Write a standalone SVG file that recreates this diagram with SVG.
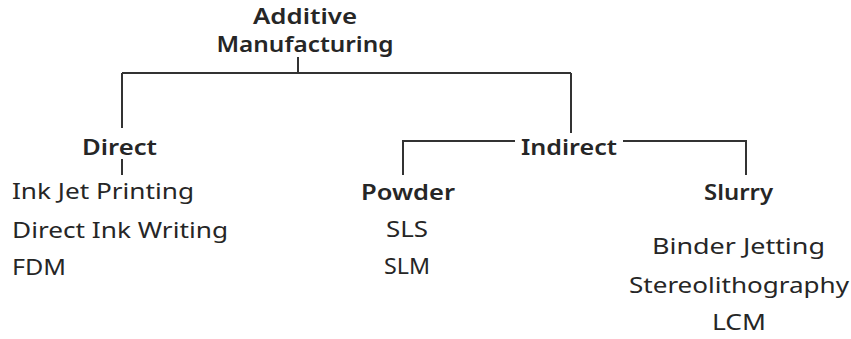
<svg xmlns="http://www.w3.org/2000/svg" width="851" height="339" viewBox="0 0 851 339">
<style>
text{font-family:"Noto Sans","Liberation Sans",sans-serif;fill:#262626;font-size:22px}
.b{font-weight:600}
.t{font-size:21px}
.m{text-anchor:middle}
.c path{fill:none;stroke:#333;stroke-width:2}
</style>
<rect width="851" height="339" fill="#fff"/>
<g class="c" id="connectors">
<path d="M298 57V73M122 73H571M122 73V128M571 73V133"/>
<path d="M122 159V175"/>
<path d="M515 141H403V175M623 141H746V175"/>
</g>
<g id="am"><text class="b m t" x="305" y="24" textLength="104" lengthAdjust="spacingAndGlyphs">Additive</text><text class="b m t" x="305" y="52" textLength="177" lengthAdjust="spacingAndGlyphs">Manufacturing</text></g>
<g id="direct"><text class="b" x="82" y="155" textLength="75" lengthAdjust="spacingAndGlyphs">Direct</text></g>
<g id="direct-items">
<text x="12" y="199" textLength="182" lengthAdjust="spacingAndGlyphs">Ink Jet Printing</text>
<text x="12" y="238" textLength="216" lengthAdjust="spacingAndGlyphs">Direct Ink Writing</text>
<text x="12" y="275" textLength="54" lengthAdjust="spacingAndGlyphs">FDM</text>
</g>
<g id="indirect"><text class="b" x="521" y="155" textLength="96" lengthAdjust="spacingAndGlyphs">Indirect</text></g>
<g id="powder"><text class="b" x="361" y="200" textLength="94" lengthAdjust="spacingAndGlyphs">Powder</text>
<text x="386" y="237" textLength="42" lengthAdjust="spacingAndGlyphs">SLS</text>
<text x="384" y="274" textLength="46" lengthAdjust="spacingAndGlyphs">SLM</text></g>
<g id="slurry"><text class="b" x="704" y="200" textLength="69" lengthAdjust="spacingAndGlyphs">Slurry</text>
<text x="652" y="254" textLength="173" lengthAdjust="spacingAndGlyphs">Binder Jetting</text>
<text x="629" y="293" textLength="220" lengthAdjust="spacingAndGlyphs">Stereolithography</text>
<text x="712" y="330" textLength="54" lengthAdjust="spacingAndGlyphs">LCM</text></g>
</svg>
